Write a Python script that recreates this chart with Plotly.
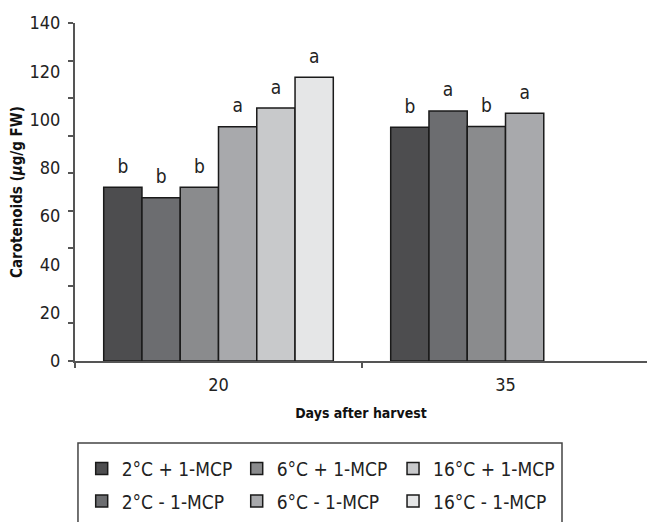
import plotly.graph_objects as go

# ---- data ----
days = ["20", "35"]
series_names = ["2°C + 1-MCP", "2°C - 1-MCP", "6°C + 1-MCP",
                "6°C - 1-MCP", "16°C + 1-MCP", "16°C - 1-MCP"]
carot_2_plus = [72.0, 96.8]
carot_2_minus = [67.6, 103.6]
carot_6_plus = [72.0, 97.1]
carot_6_minus = [97.0, 102.6]
carot_16_plus = [104.8, None]
carot_16_minus = [117.5, None]
letters_2_plus = ["b", "b"]
letters_2_minus = ["b", "a"]
letters_6_plus = ["b", "b"]
letters_6_minus = ["a", "a"]
letters_16_plus = ["a", ""]
letters_16_minus = ["a", ""]
y_tick_labels = [0, 20, 40, 60, 80, 100, 120, 140]

values = [carot_2_plus, carot_2_minus, carot_6_plus,
          carot_6_minus, carot_16_plus, carot_16_minus]
letters = [letters_2_plus, letters_2_minus, letters_6_plus,
           letters_6_minus, letters_16_plus, letters_16_minus]
colors = ["#4d4d4f", "#6c6d70", "#8a8b8d", "#a8a9ac", "#c8c9cb", "#e5e6e7"]
legend_ids = ["legend", "legend", "legend2", "legend2", "legend3", "legend3"]

FONT = "Liberation Sans Narrow, Arial Narrow, DejaVu Sans Condensed, sans-serif"
LABEL_PAD = 4.0  # gap between bar top and letter, in data units

fig = go.Figure()
for i, (name, vals, col) in enumerate(zip(series_names, values, colors)):
    fig.add_trace(go.Bar(
        x=days, y=vals, name=name, offsetgroup=str(i),
        marker=dict(color=col, line=dict(color="#1a1a1a", width=1.5)),
        legend=legend_ids[i], legendgroup=name,
    ))
for i, (vals, let) in enumerate(zip(values, letters)):
    fig.add_trace(go.Scatter(
        x=days, y=[None if v is None else v + LABEL_PAD for v in vals],
        text=let, mode="text", textposition="top center",
        textfont=dict(family=FONT, size=19, color="#222"),
        offsetgroup=str(i), showlegend=False, cliponaxis=False,
        hoverinfo="skip",
    ))
# empty trace so that the label axis (yaxis2) is drawn
fig.add_trace(go.Scatter(x=days, y=[None, None], yaxis="y2",
                         showlegend=False, hoverinfo="skip", mode="lines"))

axis_col = "#555555"
legend_font = dict(family=FONT, size=19, color="#222")
legend_y = -0.262
fig.update_layout(
    width=647, height=522,
    margin=dict(l=75, r=0, t=23, b=161, autoexpand=False),
    paper_bgcolor="white", plot_bgcolor="white",
    barmode="group", bargap=0.2, bargroupgap=0,
    scattermode="group", scattergap=0.2,
    font=dict(family=FONT, size=18, color="#222"),
    xaxis=dict(
        type="category", range=[-0.5, 1.493],
        showline=True, linecolor=axis_col, linewidth=1.5,
        ticks="outside", tickson="boundaries", ticklen=5, tickcolor=axis_col,
        tickwidth=1.5, showgrid=False, zeroline=False, ticklabelstandoff=7,
        tickfont=dict(family=FONT, size=18, color="#222"),
        title=dict(text="<b>Days after harvest</b>", standoff=14,
                   font=dict(family=FONT, size=14, color="#111")),
    ),
    yaxis=dict(
        range=[0, 140], tickmode="array",
        tickvals=[k * 140 / 9 for k in range(10)],
        showticklabels=False, ticks="outside", ticklen=5,
        tickcolor=axis_col, tickwidth=1.5,
        showline=True, linecolor=axis_col, linewidth=1.5,
        showgrid=False, zeroline=False,
    ),
    yaxis2=dict(
        overlaying="y", side="left", anchor="x", range=[0, 140],
        tickmode="array", tickvals=y_tick_labels,
        ticktext=[str(v) for v in y_tick_labels],
        ticks="outside", ticklen=10, tickcolor="rgba(0,0,0,0)",
        showline=False, showgrid=False, zeroline=False,
        tickfont=dict(family=FONT, size=18, color="#222"),
        title=dict(text="<b>Carotenoids (<i>μ</i>g/g FW)</b>", standoff=3,
                   font=dict(family=FONT, size=15, color="#111")),
    ),
    legend=dict(x=0.0117, y=legend_y, xanchor="left", yanchor="top",
                orientation="v", tracegroupgap=5, font=legend_font,
                bgcolor="rgba(0,0,0,0)"),
    legend2=dict(x=0.2827, y=legend_y, xanchor="left", yanchor="top",
                 orientation="v", tracegroupgap=5, font=legend_font,
                 bgcolor="rgba(0,0,0,0)"),
    legend3=dict(x=0.556, y=legend_y, xanchor="left", yanchor="top",
                 orientation="v", tracegroupgap=5, font=legend_font,
                 bgcolor="rgba(0,0,0,0)"),
    shapes=[dict(type="rect", xref="paper", yref="paper",
                 x0=0.0052, x1=0.8514, y0=-0.6, y1=-0.2426,
                 line=dict(color="#444", width=1.5), fillcolor="rgba(0,0,0,0)",
                 layer="below")],
    showlegend=True,
)

fig.write_html("out.html", config={"displayModeBar": False},
               post_script="document.body.style.margin='0px';")
